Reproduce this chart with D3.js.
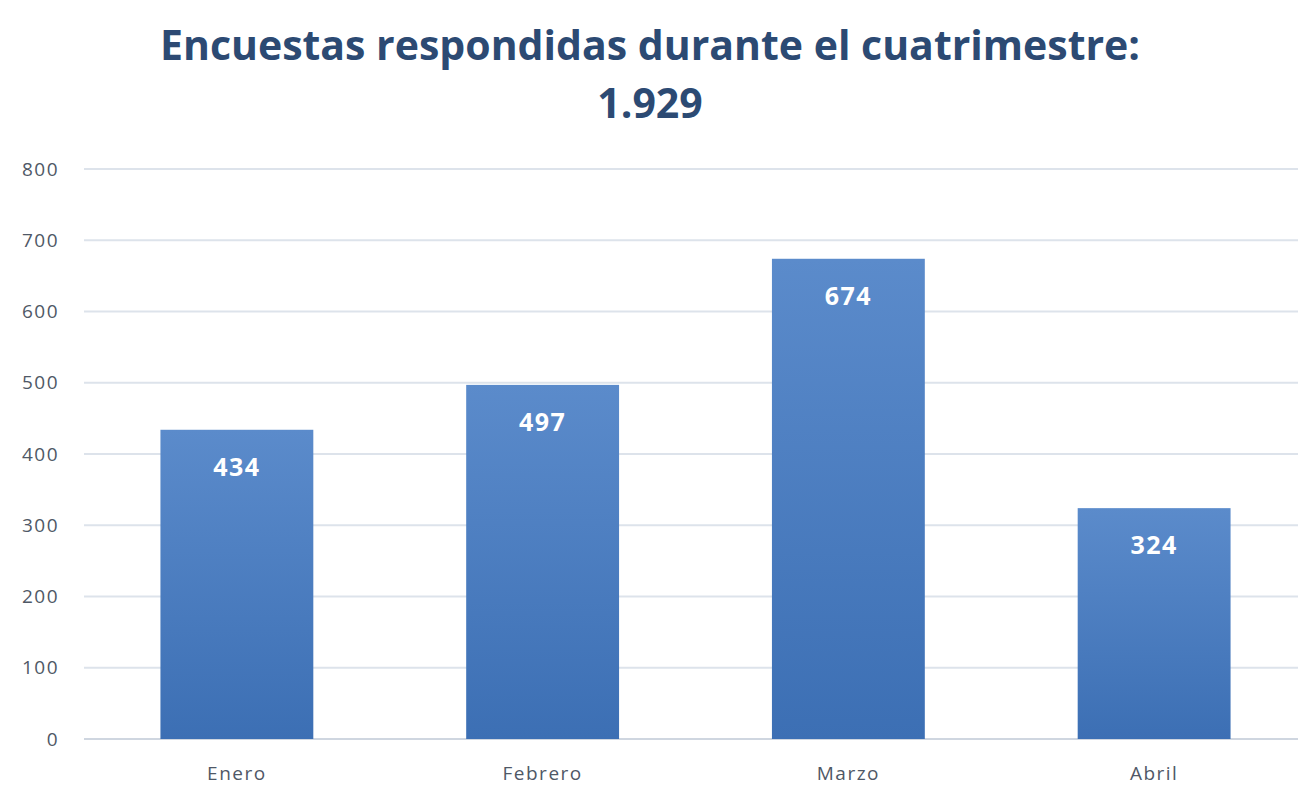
<!DOCTYPE html>
<html>
<head>
<meta charset="utf-8">
<script src="https://cdn.jsdelivr.net/npm/d3@7"></script>
<style>
	body { margin: 0; background: #fff; overflow: hidden; }
	svg { display: block; font-family: "Open Sans", Lato, sans-serif; }
</style>
</head>
<body>
<div id="chart"></div>
<script>
var months = ["Enero", "Febrero", "Marzo", "Abril"];
var responses = [434, 497, 674, 324];
var yTicks = [0, 100, 200, 300, 400, 500, 600, 700, 800];
var titleLines = ["Encuestas respondidas durante el cuatrimestre:", "1.929"];

var width = 1298,
	height = 789;

var svg = d3.select("#chart").append("svg")
	.attr("width", width)
	.attr("height", height);

// gradient for the bars, lighter on top
var grad = svg.append("defs").append("linearGradient")
	.attr("id", "barGrad")
	.attr("x1", 0).attr("y1", 0)
	.attr("x2", 0).attr("y2", 1);
grad.append("stop").attr("offset", "0%").attr("stop-color", "#5b8bcb");
grad.append("stop").attr("offset", "100%").attr("stop-color", "#3c6fb4");

// title
svg.append("g").attr("class", "title")
	.selectAll("text")
	.data(titleLines)
	.enter().append("text")
	.text(function(d) { return d; })
	.attr("x", 650)
	.attr("y", function(d, i) { return 60 + i * 58; })
	.attr("text-anchor", "middle")
	.attr("fill", "#2c4a73")
	.style("font-size", "41px")
	.style("font-weight", "bold");

var x = d3.scaleBand()
	.domain(months)
	.range([84, 1307])
	.paddingInner(0.5)
	.paddingOuter(0.25);

var y = d3.scaleLinear()
	.domain([0, 800])
	.range([739, 169]);

// gridlines
svg.append("g").attr("class", "grid")
	.selectAll("line")
	.data(yTicks)
	.enter().append("line")
	.attr("x1", 84)
	.attr("x2", 1307)
	.attr("y1", function(d) { return y(d); })
	.attr("y2", function(d) { return y(d); })
	.attr("stroke", function(d) { return d == 0 ? "#cfd6e0" : "#dde3eb"; })
	.attr("stroke-width", 2);

// y axis labels
var yAxis = svg.append("g")
	.attr("transform", "translate(59,0)")
	.call(d3.axisLeft(y).tickValues(yTicks).tickSize(0).tickPadding(0));
yAxis.select(".domain").remove();
yAxis.selectAll("text")
	.attr("fill", "#4f5866")
	.style("font-size", "19px")
	.style("letter-spacing", "1.5px")
	.style("font-family", "'Open Sans', Lato, sans-serif");

// x axis labels
var xAxis = svg.append("g")
	.attr("transform", "translate(0,766)")
	.call(d3.axisBottom(x).tickSize(0).tickPadding(0));
xAxis.select(".domain").remove();
xAxis.selectAll("text")
	.attr("fill", "#4f5866")
	.style("font-size", "19px")
	.style("letter-spacing", "1.5px")
	.style("font-family", "'Open Sans', Lato, sans-serif");

// bars
var bars = svg.append("g").attr("class", "bars");
bars.selectAll("rect")
	.data(responses)
	.enter().append("rect")
	.attr("x", function(d, i) { return x(months[i]); })
	.attr("y", function(d) { return y(d); })
	.attr("width", x.bandwidth())
	.attr("height", function(d) { return y(0) - y(d); })
	.attr("fill", "url(#barGrad)");

// value labels
bars.selectAll("text")
	.data(responses)
	.enter().append("text")
	.text(function(d) { return d; })
	.attr("x", function(d, i) { return x(months[i]) + x.bandwidth() / 2; })
	.attr("y", function(d) { return y(d) + 46; })
	.attr("text-anchor", "middle")
	.attr("fill", "#ffffff")
	.style("font-size", "25px")
	.style("letter-spacing", "1.5px")
	.style("font-weight", "bold");
</script>
</body>
</html>
